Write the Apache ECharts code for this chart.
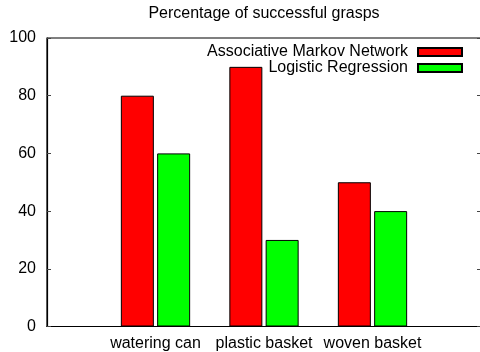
<!DOCTYPE html>
<html><head><meta charset="utf-8">
<script src="https://cdn.jsdelivr.net/npm/echarts@6/dist/echarts.min.js"></script>
<style>html,body{margin:0;padding:0;background:#fff}#c{width:480px;height:352px}</style>
</head><body><div id="c"></div>
<script>
const categories = ['watering can', 'plastic basket', 'woven basket'];
const amnValues = [80, 90, 50];
const lrValues = [60, 30, 40];
const yTicks = [0, 20, 40, 60, 80, 100];
const seriesNames = ['Associative Markov Network', 'Logistic Regression'];

const font = 'Liberation Sans, Arial, Helvetica, sans-serif';
const xCats = [''].concat(categories, ['']);
const pad = v => [null].concat(v, [null]);

const chart = echarts.init(document.getElementById('c'), null, {renderer: 'canvas'});
chart.setOption({
  animation: false,
  backgroundColor: '#fff',
  title: {
    text: 'Percentage of successful grasps',
    left: 264, top: 6, textAlign: 'center', padding: 0,
    textStyle: {fontFamily: font, fontSize: 16, fontWeight: 'normal', color: '#000'}
  },
  legend: {
    orient: 'vertical', align: 'right', right: 17, top: 44, itemGap: 0,
    itemWidth: 44, itemHeight: 8, padding: 0,
    textStyle: {fontFamily: font, fontSize: 16, color: '#000', padding: [0, 5, 0, 0]},
    data: seriesNames.map(n => ({name: n, icon: 'rect'}))
  },
  grid: {left: 47, top: 38, width: 434, height: 288.5, show: true, borderColor: '#000', borderWidth: 1.2,
    containLabel: false, outerBoundsMode: 'none'},
  xAxis: {
    type: 'category', data: xCats, boundaryGap: false,
    axisLine: {lineStyle: {color: '#000', width: 1.2}},
    axisTick: {show: false},
    axisLabel: {fontFamily: font, fontSize: 16, color: '#000', margin: 9, interval: 0},
    splitLine: {show: false}
  },
  yAxis: [{
    type: 'value', min: 0, max: 100, interval: 20,
    axisLine: {show: true, lineStyle: {color: '#000', width: 1.2}},
    axisTick: {show: true, inside: true, length: 4, lineStyle: {color: '#444'}},
    axisLabel: {fontFamily: font, fontSize: 16, color: '#000', margin: 11,
      formatter: v => yTicks.includes(v) ? String(v) : ''},
    splitLine: {show: false}
  }, {
    type: 'value', min: 0, max: 100, interval: 20, position: 'right',
    axisLine: {show: false},
    axisTick: {show: true, inside: true, length: 4, lineStyle: {color: '#444'}},
    axisLabel: {show: false}, splitLine: {show: false}
  }],
  series: [{
    name: seriesNames[0], type: 'bar', data: pad(amnValues), barWidth: 33, barGap: '10%',
    itemStyle: {color: '#ff0000', borderColor: '#000', borderWidth: 1}
  }, {
    name: seriesNames[1], type: 'bar', data: pad(lrValues), barWidth: 33, barGap: '10%',
    itemStyle: {color: '#00ff00', borderColor: '#000', borderWidth: 1}
  }]
});
</script></body></html>
